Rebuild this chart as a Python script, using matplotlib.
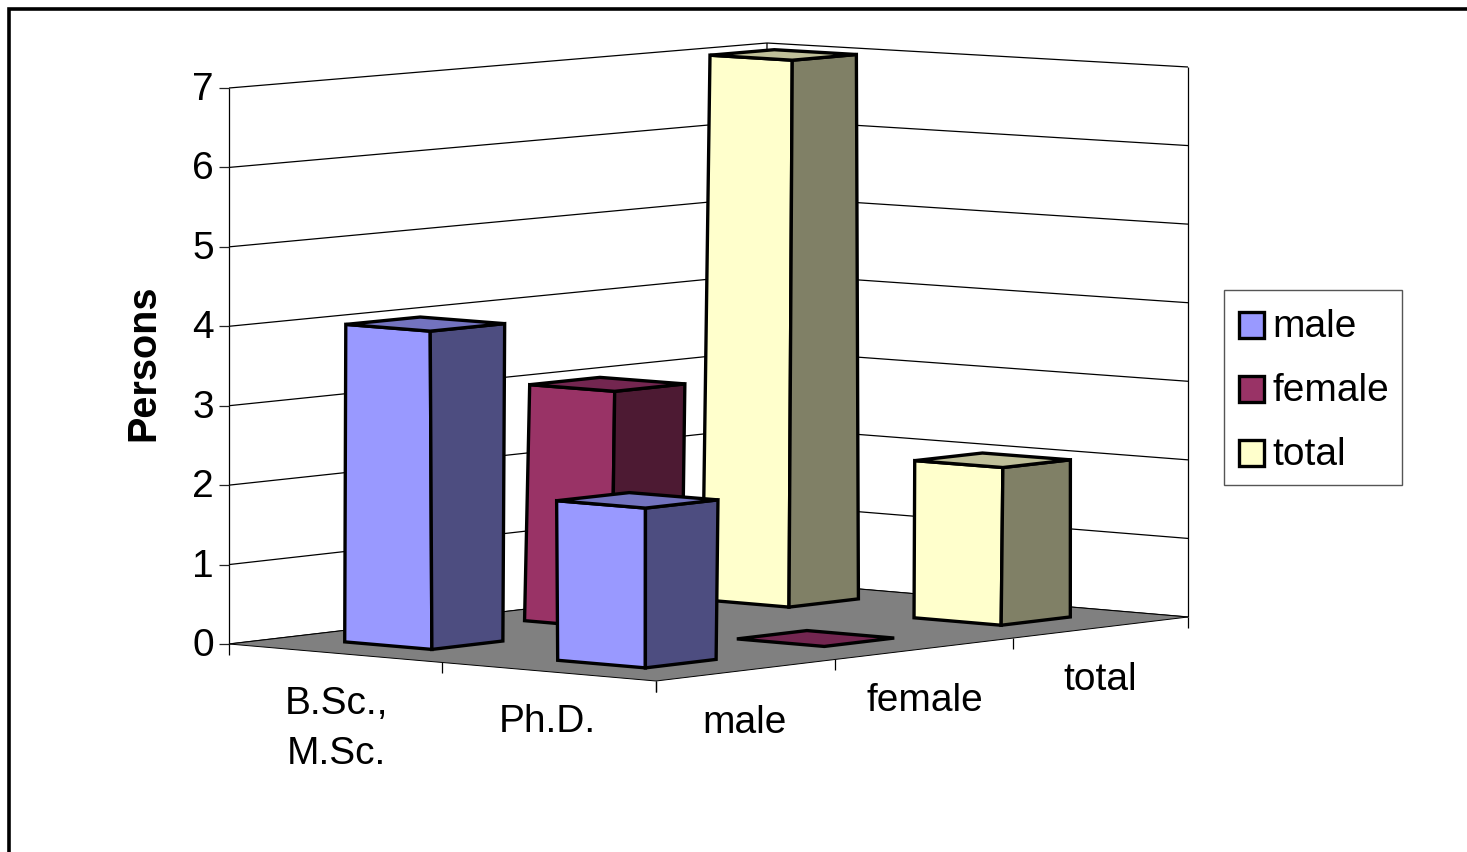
import numpy as np
import matplotlib
matplotlib.use("Agg")
import matplotlib.pyplot as plt
from matplotlib.patches import Polygon, Patch, Rectangle
from matplotlib.legend_handler import HandlerPatch

categories = ["B.Sc.,\nM.Sc.", "Ph.D."]
series_names = ["male", "female", "total"]
male = [4, 2]
female = [3, 0]
total = [7, 2]
series_values = [male, female, total]
value_ticks = [0, 1, 2, 3, 4, 5, 6, 7]
face_colors = ["#9999FF", "#993366", "#FFFFCC"]
side_colors = ["#4D4D80", "#4D1A33", "#808066"]
top_colors = ["#7373BF", "#732650", "#BFBF99"]

plt.rcParams["font.family"] = ["Liberation Sans", "DejaVu Sans"]
W, H = 1467, 853
fig = plt.figure(figsize=(W / 100, H / 100), dpi=100)
ax = fig.add_axes([0, 0, 1, 1])
ax.set_xlim(0, W)
ax.set_ylim(H, 0)
ax.axis("off")


def homography(pts):
    src = [(0, 0), (2, 0), (2, 3), (0, 3)]
    A, b = [], []
    for (u, v), (x, y) in zip(src, pts):
        A.append([u, v, 1, 0, 0, 0, -u * x, -v * x]); b.append(x)
        A.append([0, 0, 0, u, v, 1, -u * y, -v * y]); b.append(y)
    return np.append(np.linalg.solve(np.array(A, float), np.array(b, float)), 1).reshape(3, 3)


# plot-box frame: left, front, right, back corners, floor and value = 7
HF = homography([(229, 645), (656, 682), (1188, 618), (765, 582)])
HT = homography([(229, 89), (655, 122), (1188, 68), (767, 44)])
VMAX = 7


def proj(u, v, z):
    p = np.array([u, v, 1.0])
    a = HF @ p
    b = HT @ p
    a = a[:2] / a[2]
    b = b[:2] / b[2]
    return tuple(a + (b - a) * z / VMAX)


def poly(pts, fc, lw=2.4, ec="black", z=1):
    ax.add_patch(Polygon(pts, closed=True, fc=fc, ec=ec, lw=lw, joinstyle="miter", zorder=z))


def seg(a, b, lw=0.9, color="black", z=1):
    ax.plot([a[0], b[0]], [a[1], b[1]], color=color, lw=lw, zorder=z, solid_capstyle="butt")


# floor
poly([proj(0, 0, 0), proj(2, 0, 0), proj(2, 3, 0), proj(0, 3, 0)], "#808080", lw=0.7, z=2)

# walls and gridlines
for t in value_ticks:
    seg(proj(0, 0, t), proj(0, 3, t), z=1)
    seg(proj(0, 3, t), proj(2, 3, t), z=1)
seg(proj(0, 0, 0), proj(0, 0, VMAX))
seg(proj(0, 3, 0), proj(0, 3, VMAX))
seg(proj(2, 3, 0), proj(2, 3, VMAX))

# value axis ticks and labels
for t in value_ticks:
    x, y = proj(0, 0, t)
    seg((x - 10, y), (x, y), z=3, color="#222222")
    ax.text(x - 15, y + 1, str(t), fontsize=28, ha="right", va="center", zorder=5)

# floor-edge ticks
for i in range(3):
    x, y = proj(i, 0, 0)
    seg((x, y), (x, y + 11), z=3)
for j in range(4):
    x, y = proj(2, j, 0)
    seg((x, y), (x, y + 11), z=3)

# category and series labels
cat_pos = [(336, 729), (547, 722)]
for lab, (x, y) in zip(categories, cat_pos):
    ax.text(x, y, lab, fontsize=28, ha="center", va="center", linespacing=1.52, zorder=5)
ser_pos = [(745, 723), (925, 701), (1100, 680)]
for lab, (x, y) in zip(series_names, ser_pos):
    ax.text(x, y, lab, fontsize=28, ha="center", va="center", zorder=5)

ax.text(143, 363, "Persons", fontsize=28.5, fontweight="bold", rotation=90, ha="center", va="center", zorder=5)

# bars, back to front
HW_U, HW_V = 0.205, 0.197
z = 10
for j in [2, 1, 0]:
    for i in range(len(categories)):
        val = series_values[j][i]
        uc, vc = i + 0.47, j + 0.525
        u0, u1 = uc - HW_U, uc + HW_U
        v0, v1 = vc - HW_V, vc + HW_V
        if val > 0:
            poly([proj(u0, v0, 0), proj(u1, v0, 0), proj(u1, v0, val), proj(u0, v0, val)], face_colors[j], z=z)
            poly([proj(u1, v0, 0), proj(u1, v1, 0), proj(u1, v1, val), proj(u1, v0, val)], side_colors[j], z=z)
        poly([proj(u0, v0, val), proj(u1, v0, val), proj(u1, v1, val), proj(u0, v1, val)], top_colors[j], z=z)
        z += 1


# legend: swatches sit a little below the text centre
def swatch(legend, orig_handle, xdescent, ydescent, width, height, fontsize):
    return Rectangle((-xdescent, -ydescent - 0.075 * fontsize), width, height)


handles = [Patch(fc=c, ec="black", lw=2.4) for c in face_colors]
ax.add_patch(Rectangle((1224, 291), 178, 195, fc="white", ec="#555555", lw=1.0, zorder=30))
leg = ax.legend(handles, series_names, loc="upper left",
                bbox_to_anchor=(1224 / W, 1 - 294 / H), bbox_transform=fig.transFigure,
                fontsize=28, frameon=False,
                borderpad=0.377, labelspacing=0.72, handlelength=0.64, handleheight=0.67,
                handletextpad=0.23, borderaxespad=0,
                handler_map={Patch: HandlerPatch(patch_func=swatch)})
leg.set_zorder(31)

# outer frame, cut off by the image on the right and bottom
ax.plot([9, 9, W], [H, 10, 10], color="black", lw=2.6, solid_joinstyle="miter", zorder=20)

fig.savefig("out.png", dpi=100)
